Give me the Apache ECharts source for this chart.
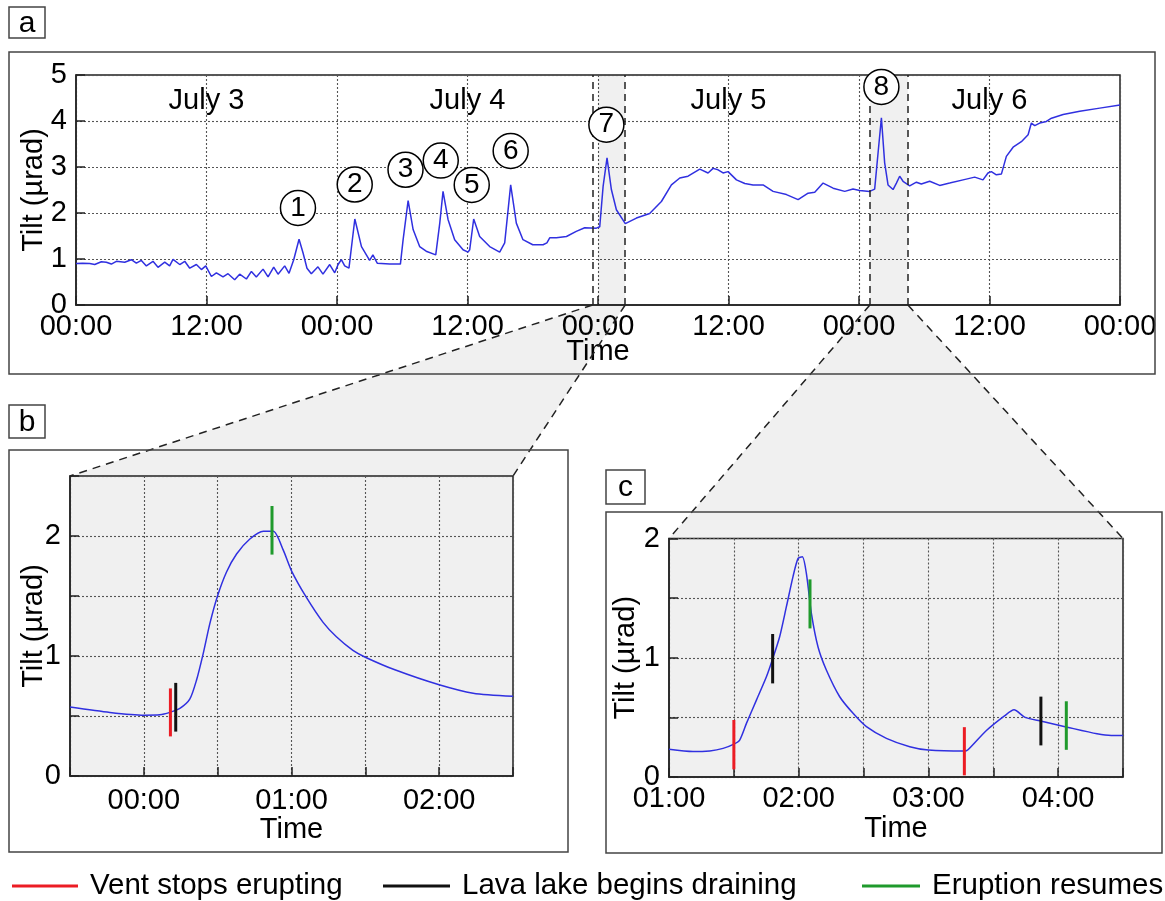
<!DOCTYPE html>
<html>
<head>
<meta charset="utf-8">
<title>Tilt record</title>
<script src="https://cdn.jsdelivr.net/npm/echarts@6.0.0/dist/echarts.min.js"></script>
<style>
  html, body { margin: 0; padding: 0; background: #fff; }
  #main { width: 1165px; height: 901px; }
</style>
</head>
<body>
<div id="main"></div>
<script>
// panel a: hours since July 3 00:00, tilt in µrad
var aTime = [0, 0.6, 1.26, 1.72, 2.33, 2.79, 3.25, 3.71, 4.48, 5.09, 5.55, 6.01, 6.47, 7.08, 7.54, 8.16, 8.61, 8.92,
  9.54, 10.0, 10.46, 11.07, 11.53, 11.93, 12.45, 12.91, 13.52, 13.98, 14.59, 15.05, 15.67, 16.13, 16.58, 17.2,
  17.66, 18.18, 18.58, 19.19, 19.59, 20.02, 20.51, 20.88, 21.24, 21.64, 22.25, 22.71, 23.33, 23.79, 24.1, 24.4,
  24.71, 25.1, 25.64, 26.25, 27.0, 27.3, 27.7, 28.85, 29.83, 30.08, 30.54, 31.0, 31.6, 32.2, 33.08, 33.45, 33.75,
  34.21, 34.82, 35.59, 36.05, 36.2, 36.57, 37.12, 38.04, 38.96, 39.42, 39.97, 40.49, 41.1, 42.0, 42.95, 43.3,
  43.56, 44.17, 45.1, 46.0, 46.78, 47.85, 48.16, 48.47, 48.83, 49.23, 49.69, 50.51, 51.53, 52.75, 53.83, 54.75,
  55.52, 56.28, 57.36, 58.12, 58.58, 59.04, 59.5, 59.96, 60.73, 61.5, 62.26, 63.18, 64.1, 65.33, 66.4, 67.32,
  67.93, 68.7, 69.62, 70.69, 71.45, 72.06, 72.98, 73.44, 73.75, 74.06, 74.36, 74.67, 75.13, 75.44, 75.74, 76.05,
  76.66, 77.28, 77.73, 78.5, 79.42, 80.34, 81.57, 82.64, 83.4, 83.86, 84.17, 84.63, 85.1, 85.55, 86.17, 86.93,
  87.55, 87.85, 88.16, 88.62, 89.23, 89.7, 90.77, 92.3, 94.14, 96.0];
var aTilt = [0.90, 0.91, 0.90, 0.88, 0.94, 0.93, 0.89, 0.95, 0.93, 0.985, 0.91, 0.97, 0.85, 0.95, 0.82, 0.93, 0.85, 0.99,
  0.88, 0.95, 0.80, 0.88, 0.77, 0.85, 0.62, 0.70, 0.61, 0.68, 0.55, 0.67, 0.565, 0.73, 0.61, 0.78,
  0.61, 0.825, 0.67, 0.85, 0.69, 0.985, 1.43, 1.13, 0.80, 0.68, 0.83, 0.67, 0.88, 0.70, 0.88, 0.985,
  0.85, 0.80, 1.87, 1.27, 0.97, 1.09, 0.91, 0.89, 0.89, 1.42, 2.27, 1.64, 1.27, 1.17, 1.09, 1.78, 2.47,
  1.86, 1.42, 1.20, 1.15, 1.20, 1.87, 1.49, 1.27, 1.15, 1.35, 2.61, 1.78, 1.42, 1.31, 1.31, 1.35,
  1.46, 1.46, 1.49, 1.60, 1.68, 1.67, 1.70, 2.58, 3.20, 2.51, 2.07, 1.77, 1.89, 1.99, 2.25, 2.61,
  2.76, 2.80, 2.955, 2.87, 2.97, 2.94, 2.87, 2.90, 2.72, 2.64, 2.61, 2.61, 2.47, 2.40, 2.29, 2.43,
  2.45, 2.65, 2.54, 2.47, 2.52, 2.49, 2.47, 2.52, 3.30, 4.07, 3.09, 2.61, 2.51, 2.65, 2.80, 2.69,
  2.59, 2.67, 2.63, 2.69, 2.60, 2.65, 2.72, 2.78, 2.72, 2.87, 2.90, 2.83, 2.85, 3.23, 3.43, 3.55,
  3.70, 3.955, 3.90, 3.955, 3.99, 4.06, 4.14, 4.21, 4.28, 4.35];

var dayNames = ['July 3', 'July 4', 'July 5', 'July 6'];
var dayMid = [12, 36, 60, 84];
var peakNames = ['1', '2', '3', '4', '5', '6', '7', '8'];
var peakLabelTime = [20.41, 25.63, 30.3, 33.54, 36.39, 39.97, 48.77, 74.06];
var peakLabelTilt = [2.11, 2.62, 2.94, 3.14, 2.61, 3.35, 3.92, 4.74];

// zoom windows: start hour of the day, and the [from, to] span in hours
var bDay = 48, bSpan = [-0.5, 2.5], bShade = [0, 2.5];
var cDay = 72, cSpan = [1, 4.5], cShade = [1, 4.5];

// panel b: hours since July 5 00:00
var bTime = [-0.5, -0.23, 0, 0.108, 0.176, 0.244, 0.311, 0.357, 0.402, 0.447, 0.499, 0.56, 0.628, 0.718, 0.81,
  0.877, 0.945, 1.0, 1.1, 1.214, 1.304, 1.416, 1.5, 1.7, 2.0, 2.23, 2.5];
var bTilt = [0.575, 0.53, 0.507, 0.51, 0.53, 0.563, 0.64, 0.80, 1.02, 1.27, 1.50, 1.70, 1.85, 1.975, 2.04,
  2.04, 1.88, 1.71, 1.49, 1.28, 1.16, 1.047, 0.99, 0.885, 0.76, 0.69, 0.664];
// event ticks: [hour, low, high]
var bVentStop = [[0.18, 0.33, 0.73]];
var bDrain = [[0.216, 0.37, 0.776]];
var bResume = [[0.868, 1.845, 2.25]];

// panel c: hours since July 6 00:00
var cTime = [1.0, 1.185, 1.314, 1.417, 1.5, 1.545, 1.597, 1.674, 1.751, 1.802, 1.853, 1.905, 1.956, 1.995, 2.028,
  2.059, 2.098, 2.149, 2.213, 2.316, 2.419, 2.522, 2.676, 2.856, 3.0, 3.277, 3.305, 3.447, 3.589, 3.66, 3.745,
  3.873, 4.07, 4.3, 4.41, 4.5];
var cTilt = [0.232, 0.213, 0.219, 0.24, 0.276, 0.31, 0.45, 0.645, 0.84, 1.0, 1.176, 1.428, 1.68, 1.833, 1.847,
  1.707, 1.37, 1.09, 0.897, 0.673, 0.534, 0.422, 0.324, 0.254, 0.226, 0.217, 0.228, 0.39, 0.515, 0.563, 0.50,
  0.468, 0.418, 0.362, 0.348, 0.348];
var cVentStop = [[1.5, 0.064, 0.478], [3.277, 0.014, 0.418]];
var cDrain = [[1.799, 0.785, 1.199], [3.867, 0.265, 0.674]];
var cResume = [[2.087, 1.246, 1.657], [4.063, 0.228, 0.635]];

var FONT = "'Liberation Sans', Arial, sans-serif";
var BLUE = '#3030e0', RED = '#ec1c24', BLACK = '#111111', GREEN = '#1f9a2c', SHADE = '#f0f0f0';
var FS = 29;

function zip(xs, ys) {
    return xs.map(function (x, i) { return [x, ys[i]]; });
}
function hhmm(h) {
    h = Math.round(((h % 24) + 24) % 24);
    return (h < 10 ? '0' : '') + h + ':00';
}
function wholeHour(v) {
    return Math.abs(v - Math.round(v)) < 1e-6;
}
function renderTick(params, api) {
    var p0 = api.coord([api.value(0), api.value(1)]);
    var p1 = api.coord([api.value(0), api.value(2)]);
    return {
        type: 'line',
        shape: { x1: p0[0], y1: p0[1], x2: p1[0], y2: p1[1] },
        style: { stroke: api.visual('color'), lineWidth: 3 }
    };
}

var gridLine = { show: true, lineStyle: { type: [2, 2], color: '#555', width: 1.1 } };
var tickIn = { show: true, inside: true, length: 9, lineStyle: { color: '#222', width: 1.5 } };
var axLine = { show: true, onZero: false, lineStyle: { color: '#222', width: 1.5 } };
var lbl = { fontSize: FS, color: '#000', fontFamily: FONT };
var nameStyle = { fontSize: FS, color: '#000', fontFamily: FONT };

function xAx(gi, min, max, interval, fmt, margin, gap) {
    return {
        type: 'value', gridIndex: gi, min: min, max: max, interval: interval,
        axisLine: axLine, axisTick: tickIn, splitLine: gridLine,
        axisLabel: Object.assign({ margin: margin, formatter: fmt, showMinLabel: true, showMaxLabel: true }, lbl),
        name: 'Time', nameLocation: 'middle', nameGap: gap, nameMoveOverlap: false, nameTextStyle: nameStyle
    };
}
function yAx(gi, max, interval, fmt, gap) {
    return {
        type: 'value', gridIndex: gi, min: 0, max: max, interval: interval,
        axisLine: axLine, axisTick: tickIn, splitLine: gridLine,
        axisLabel: Object.assign({ margin: 9, formatter: fmt }, lbl),
        name: 'Tilt (µrad)', nameLocation: 'middle', nameGap: gap, nameRotate: 90, nameMoveOverlap: false,
        nameTextStyle: nameStyle
    };
}
var intOnly = function (v) { return wholeHour(v) ? String(Math.round(v)) : ''; };

var chart = echarts.init(document.getElementById('main'), null, { renderer: 'canvas' });

var legendNames = ['Vent stops erupting', 'Lava lake begins draining', 'Eruption resumes'];
var legendCols = [RED, BLACK, GREEN];
var legendLeft = [7, 378, 857];
var legendIconW = [66, 67, 58];

var option = {
    backgroundColor: '#ffffff',
    animation: false,
    textStyle: { fontFamily: FONT },
    grid: [
        { left: 76, top: 75, width: 1044, height: 230, show: true, borderColor: '#222', borderWidth: 1.5,
          backgroundColor: '#fff', outerBoundsMode: 'none' },
        { left: 70, top: 476, width: 443, height: 300, show: true, borderColor: '#222', borderWidth: 1.5,
          backgroundColor: SHADE, outerBoundsMode: 'none' },
        { left: 669, top: 538.5, width: 454, height: 238.5, show: true, borderColor: '#222', borderWidth: 1.5,
          backgroundColor: SHADE, outerBoundsMode: 'none' }
    ],
    xAxis: [
        xAx(0, 0, 96, 12, function (v) { return hhmm(v); }, 7, 32),
        xAx(1, bSpan[0], bSpan[1], 0.5, function (v) { return wholeHour(v) ? hhmm(v) : ''; }, 10, 39),
        xAx(2, cSpan[0], cSpan[1], 0.5, function (v) { return wholeHour(v) ? hhmm(v) : ''; }, 7, 37)
    ],
    yAxis: [
        yAx(0, 5, 1, intOnly, 28),
        yAx(1, 2.5, 0.5, intOnly, 22),
        yAx(2, 2, 0.5, intOnly, 29)
    ],
    legend: legendNames.map(function (n, i) {
        return {
            left: legendLeft[i], top: 866, selectedMode: false, itemWidth: legendIconW[i], itemHeight: 3,
            data: [{ name: n, icon: 'rect', itemStyle: { color: legendCols[i] } }],
            textStyle: { fontSize: 29.5, color: '#000', fontFamily: FONT, padding: [0, 0, 0, 7] }
        };
    }),
    series: [
        {
            type: 'line', name: 'tilt a', xAxisIndex: 0, yAxisIndex: 0, data: zip(aTime, aTilt),
            showSymbol: false, lineStyle: { color: BLUE, width: 1.5 }, z: 3,
            markArea: {
                silent: true, itemStyle: { color: 'rgba(0,0,0,0.06)' },
                data: [
                    [{ xAxis: bDay + bShade[0] }, { xAxis: bDay + bShade[1] }],
                    [{ xAxis: cDay + cShade[0] }, { xAxis: cDay + cShade[1] }]
                ]
            },
            markLine: {
                silent: true, symbol: ['none', 'none'], label: { show: false },
                lineStyle: { type: [7, 5], color: '#222', width: 1.5 },
                data: [
                    { xAxis: bDay + bSpan[0] }, { xAxis: bDay + bSpan[1] },
                    { xAxis: cDay + cSpan[0] }, { xAxis: cDay + cSpan[1] }
                ]
            }
        },
        {
            type: 'scatter', name: 'days', xAxisIndex: 0, yAxisIndex: 0, symbolSize: 0, z: 4,
            itemStyle: { color: 'rgba(0,0,0,0)', opacity: 1 },
            label: { show: true, position: 'inside', formatter: '{b}', fontSize: FS, color: '#000', opacity: 1,
                     textBorderWidth: 0, fontFamily: FONT },
            data: dayNames.map(function (n, i) { return { name: n, value: [dayMid[i], 4.43] }; })
        },
        {
            type: 'scatter', name: 'peaks', xAxisIndex: 0, yAxisIndex: 0, symbol: 'circle', symbolSize: 35, z: 5,
            itemStyle: { color: '#fff', borderColor: '#000', borderWidth: 1.5, opacity: 1 },
            label: { show: true, position: 'inside', formatter: '{b}', fontSize: 28, color: '#000', opacity: 1,
                     textBorderWidth: 0, fontFamily: FONT },
            data: peakNames.map(function (n, i) { return { name: n, value: [peakLabelTime[i], peakLabelTilt[i]] }; })
        },
        {
            type: 'line', name: 'tilt b', xAxisIndex: 1, yAxisIndex: 1, data: zip(bTime, bTilt),
            showSymbol: false, smooth: 0.25, lineStyle: { color: BLUE, width: 1.5 }, z: 3
        },
        {
            type: 'line', name: 'tilt c', xAxisIndex: 2, yAxisIndex: 2, data: zip(cTime, cTilt),
            showSymbol: false, smooth: 0.25, lineStyle: { color: BLUE, width: 1.5 }, z: 3
        }
    ]
};

// event ticks in panels b and c
[[bVentStop, cVentStop, legendNames[0], RED],
 [bDrain, cDrain, legendNames[1], BLACK],
 [bResume, cResume, legendNames[2], GREEN]].forEach(function (ev) {
    [1, 2].forEach(function (gi) {
        option.series.push({
            type: 'custom', name: ev[2], xAxisIndex: gi, yAxisIndex: gi, z: 6,
            renderItem: renderTick, itemStyle: { color: ev[3] },
            encode: { x: 0, y: [1, 2] },
            data: gi === 1 ? ev[0] : ev[1]
        });
    });
});

chart.setOption(option);

// zoom connectors, panel frames and panel letters
function px(gi, pt) { return chart.convertToPixel({ gridIndex: gi }, pt); }
var a1 = px(0, [bDay + bSpan[0], 0]), a2 = px(0, [bDay + bSpan[1], 0]);
var b1 = px(1, [bSpan[0], 2.5]), b2 = px(1, [bSpan[1], 2.5]);
var a3 = px(0, [cDay + cSpan[0], 0]), a4 = px(0, [cDay + cSpan[1], 0]);
var c1 = px(2, [cSpan[0], 2]), c2 = px(2, [cSpan[1], 2]);
var dash = { stroke: '#222', lineWidth: 1.5, lineDash: [8, 6] };
var frame = { fill: 'none', stroke: '#444', lineWidth: 1.5 };

function letter(x, y, w, h, t) {
    return {
        type: 'group', z: 20, children: [
            { type: 'rect', shape: { x: x, y: y, width: w, height: h }, style: frame },
            { type: 'text', x: x + w / 2, y: y + h / 2 + 1,
              style: { text: t, fill: '#000', font: '30px ' + FONT, align: 'center', verticalAlign: 'middle' } }
        ]
    };
}

chart.setOption({
    graphic: [
        { type: 'polygon', z: -10, shape: { points: [a1, a2, b2, b1] }, style: { fill: SHADE } },
        { type: 'polygon', z: -10, shape: { points: [a3, a4, c2, c1] }, style: { fill: SHADE } },
        { type: 'line', z: 10, shape: { x1: a1[0], y1: a1[1], x2: b1[0], y2: b1[1] }, style: dash },
        { type: 'line', z: 10, shape: { x1: a2[0], y1: a2[1], x2: b2[0], y2: b2[1] }, style: dash },
        { type: 'line', z: 10, shape: { x1: a3[0], y1: a3[1], x2: c1[0], y2: c1[1] }, style: dash },
        { type: 'line', z: 10, shape: { x1: a4[0], y1: a4[1], x2: c2[0], y2: c2[1] }, style: dash },
        { type: 'rect', z: 20, shape: { x: 9, y: 52, width: 1146, height: 322 }, style: frame },
        { type: 'rect', z: 20, shape: { x: 9, y: 450, width: 559, height: 402 }, style: frame },
        { type: 'rect', z: 20, shape: { x: 606, y: 512, width: 556, height: 341 }, style: frame },
        letter(9, 7, 36, 31, 'a'),
        letter(9, 405, 36, 33, 'b'),
        letter(606, 470, 39, 34, 'c')
    ]
});
</script>
</body>
</html>
